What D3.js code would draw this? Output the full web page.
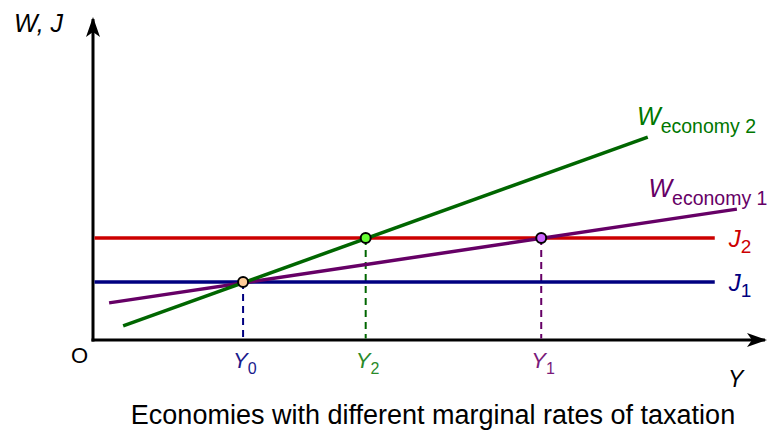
<!DOCTYPE html>
<html>
<head>
<meta charset="utf-8">
<script src="https://cdn.jsdelivr.net/npm/d3@7"></script>
<style>
  html, body { margin: 0; padding: 0; background: #fff; }
  svg { display: block; font-family: "Liberation Sans", Arial, sans-serif; }
</style>
</head>
<body>
<svg id="chart" width="767" height="431"></svg>
<script>
// ---- data (abstract units) ----
const xDomain = [0, 10];
const yDomain = [0, 10];
const jLevels = [
  { name: "J", sub: "1", y: 1.81, x0: 0, x1: 9.28, color: "#000080" },
  { name: "J", sub: "2", y: 3.19, x0: 0, x1: 9.28, color: "#cc0000" }
];
const wEconomy2 = [[0.45, 0.44], [8.28, 6.34]];
const wEconomy1 = [[0.24, 1.16], [9.61, 4.09]];
const equilibria = [
  { label: "Y", sub: "0", x: 2.24, y: 1.81, fill: "#ffcc99", line: "#000080", text: "#1a1a8c" },
  { label: "Y", sub: "2", x: 4.07, y: 3.19, fill: "#66ff33", line: "#006600", text: "#2a8a2a" },
  { label: "Y", sub: "1", x: 6.69, y: 3.19, fill: "#cc66ff", line: "#660066", text: "#7a1a7a" }
];
const caption = "Economies with different marginal rates of taxation";

// ---- scales ----
const x = d3.scaleLinear().domain(xDomain).range([93, 763]);
const y = d3.scaleLinear().domain(yDomain).range([340, 20]);

const svg = d3.select("#chart");
const defs = svg.append("defs");
defs.append("marker")
  .attr("id", "arrow")
  .attr("viewBox", "0 0 20 14")
  .attr("refX", 18).attr("refY", 7)
  .attr("markerWidth", 20).attr("markerHeight", 14)
  .attr("markerUnits", "userSpaceOnUse")
  .attr("orient", "auto")
  .append("path")
  .attr("d", "M0,0 L20,7 L0,14 L5,7 Z")
  .attr("fill", "#000");

// axes
svg.append("line")
  .attr("x1", x(0)).attr("y1", y(0) + 1.5)
  .attr("x2", x(0)).attr("y2", y(yDomain[1]) - 1)
  .attr("stroke", "#000").attr("stroke-width", 3)
  .attr("marker-end", "url(#arrow)");
svg.append("line")
  .attr("x1", x(0) - 1.5).attr("y1", y(0))
  .attr("x2", x(xDomain[1]) + 2).attr("y2", y(0))
  .attr("stroke", "#000").attr("stroke-width", 3)
  .attr("marker-end", "url(#arrow)");

// dashed drop lines
svg.selectAll(".drop").data(equilibria).enter().append("line")
  .attr("x1", d => x(d.x)).attr("x2", d => x(d.x))
  .attr("y1", d => y(d.y)).attr("y2", y(0) - 1.5)
  .attr("stroke", d => d.line).attr("stroke-width", 2)
  .attr("stroke-dasharray", "7,5");

// J lines
svg.selectAll(".jline").data(jLevels).enter().append("line")
  .attr("x1", d => x(d.x0) + 1.5).attr("x2", d => x(d.x1))
  .attr("y1", d => y(d.y)).attr("y2", d => y(d.y))
  .attr("stroke", d => d.color).attr("stroke-width", 3.5);

// W lines
const lineGen = d3.line().x(d => x(d[0])).y(d => y(d[1]));
svg.append("path").datum(wEconomy1).attr("d", lineGen)
  .attr("stroke", "#660066").attr("stroke-width", 3.5).attr("fill", "none");
svg.append("path").datum(wEconomy2).attr("d", lineGen)
  .attr("stroke", "#006600").attr("stroke-width", 3.5).attr("fill", "none");

// points
svg.selectAll(".pt").data(equilibria).enter().append("circle")
  .attr("cx", d => x(d.x)).attr("cy", d => y(d.y)).attr("r", 5)
  .attr("fill", d => d.fill).attr("stroke", "#000").attr("stroke-width", 2);

// Y labels
equilibria.forEach(d => {
  const t = svg.append("text")
    .attr("x", x(d.x) - 10).attr("y", 368)
    .attr("fill", d.text).style("font-size", "22px");
  t.append("tspan").style("font-style", "italic").text(d.label);
  t.append("tspan").attr("dy", 6).style("font-size", "16px").text(d.sub);
});

// J labels
jLevels.forEach(d => {
  const t = svg.append("text")
    .attr("x", x(d.x1) + 14).attr("y", y(d.y) + 9)
    .attr("fill", d.color).style("font-size", "24px");
  t.append("tspan").style("font-style", "italic").text(d.name);
  t.append("tspan").attr("dy", 6).style("font-size", "19px").text(d.sub);
});

// W labels
function wLabel(px, py, sub, color) {
  const t = svg.append("text").attr("x", px).attr("y", py).attr("fill", color)
    .style("font-size", "25px");
  t.append("tspan").style("font-style", "italic").text("W");
  t.append("tspan").attr("dy", 8).style("font-size", "19.5px").text(sub);
}
wLabel(x(8.12), y(6.72), "economy 2", "#007700");
wLabel(x(8.29), y(4.47), "economy 1", "#660066");

// axis labels
svg.append("text").attr("x", 14).attr("y", 32)
  .style("font-size", "25px").style("font-style", "italic").text("W, J");
svg.append("text").attr("x", 71).attr("y", 363)
  .style("font-size", "22px").text("O");
svg.append("text").attr("x", 728).attr("y", 387)
  .style("font-size", "23px").style("font-style", "italic").text("Y");

// caption
svg.append("text").attr("x", 433).attr("y", 424)
  .attr("text-anchor", "middle")
  .style("font-size", "27px").text(caption);
</script>
</body>
</html>
